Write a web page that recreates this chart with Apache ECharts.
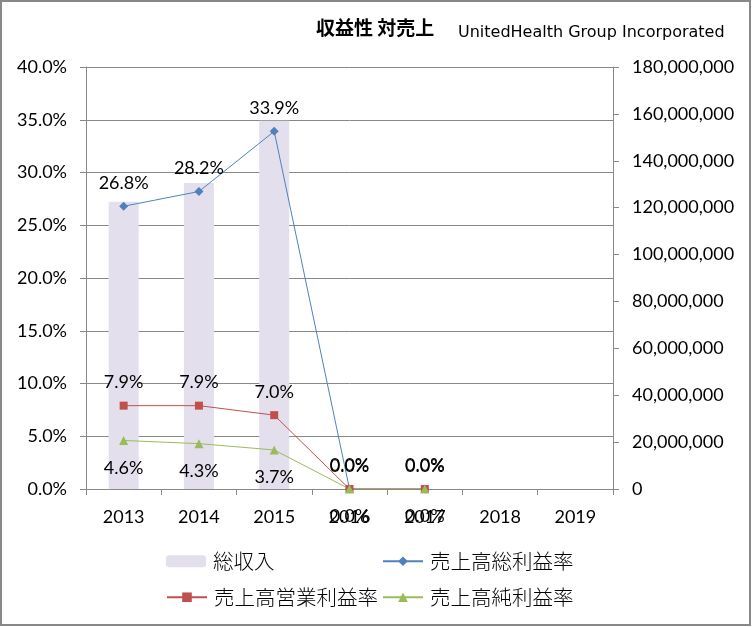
<!DOCTYPE html>
<html><head><meta charset="utf-8">
<script src="https://cdn.jsdelivr.net/npm/echarts@6/dist/echarts.min.js"></script>
<style>html,body{margin:0;padding:0;background:#fff}#c{width:752px;height:627px}</style>
</head><body><div id="c"></div>
<script>
const categories = ['2013','2014','2015','2016','2017','2018','2019'];
const revenue = [122489000, 130474000, 157107000, null, null, null, null];
const grossMargin = [26.8, 28.2, 33.9, 0, 0, null, null];
const operatingMargin = [7.9, 7.9, 7.0, 0, 0, null, null];
const netMargin = [4.6, 4.3, 3.7, 0, 0, null, null];
const seriesNames = ['総収入','売上高総利益率','売上高営業利益率','売上高純利益率'];

const FONT = 'Lato, "Noto Sans CJK JP", sans-serif';
const JFONT = '"Noto Sans CJK JP", sans-serif';
const pct = v => v.toFixed(1) + '%';
const lbl = (pos, dist) => ({show:true, position:pos, distance:dist, color:'#000', fontSize:18, fontFamily:FONT, formatter:p => pct(p.value)});
const legendCommon = {itemWidth:40, itemHeight:12, itemGap:0, padding:0, textStyle:{fontSize:20.5, fontFamily:JFONT, color:'#000', fontWeight:300, padding:[0,0,0,2]}};

const chart = echarts.init(document.getElementById('c'));
chart.setOption({
  animation:false,
  title:[
    {text:'収益性 対売上', left:316, top:18, padding:0, textStyle:{fontSize:19, fontWeight:'bold', fontFamily:JFONT, color:'#000'}},
    {text:'UnitedHealth Group Incorporated', left:458, top:25, padding:0, textStyle:{fontSize:16, fontWeight:'normal', fontFamily:'"DejaVu Sans", sans-serif', color:'#000'}}
  ],
  graphic:[{type:'rect', shape:{x:1, y:1, width:749, height:624}, style:{fill:'none', stroke:'#888', lineWidth:2}, silent:true, z:-1}],
  legend:[
    Object.assign({data:[seriesNames[0]], left:166, top:551}, legendCommon),
    Object.assign({data:[seriesNames[1]], left:382, top:551}, legendCommon),
    Object.assign({data:[seriesNames[2]], left:166, top:587}, legendCommon),
    Object.assign({data:[seriesNames[3]], left:382, top:587}, legendCommon)
  ],
  grid:{left:86, right:139, top:67, bottom:138},
  xAxis:{type:'category', data:categories, boundaryGap:true,
    axisLine:{lineStyle:{color:'#888'}}, axisTick:{show:true, length:6, lineStyle:{color:'#888'}},
    axisLabel:{color:'#000', fontSize:18, fontFamily:FONT, margin:19}},
  yAxis:[
    {type:'value', min:0, max:40, interval:5, position:'left',
     axisLine:{show:true, lineStyle:{color:'#888'}}, axisTick:{show:true, length:6, lineStyle:{color:'#888'}},
     splitLine:{lineStyle:{color:'#888'}},
     axisLabel:{color:'#000', fontSize:18, fontFamily:FONT, margin:19, formatter:pct}},
    {type:'value', min:0, max:180000000, interval:20000000, position:'right',
     axisLine:{show:true, lineStyle:{color:'#888'}}, axisTick:{show:true, length:6, lineStyle:{color:'#888'}},
     splitLine:{show:false},
     axisLabel:{color:'#000', fontSize:18, fontFamily:FONT, margin:19, formatter:v => v.toLocaleString('en-US')}}
  ],
  series:[
    {name:seriesNames[0], type:'bar', yAxisIndex:1, data:revenue, barWidth:30, itemStyle:{color:'#e4dfec'}},
    {name:seriesNames[1], type:'line', data:grossMargin, symbol:'diamond', symbolSize:9, color:'#4f81bd',
     lineStyle:{width:1, color:'#4f81bd'}, itemStyle:{color:'#4f81bd'}, label:lbl('top',10)},
    {name:seriesNames[2], type:'line', data:operatingMargin, symbol:'rect', symbolSize:8, color:'#c0504d',
     lineStyle:{width:1, color:'#c0504d'}, itemStyle:{color:'#c0504d'}, label:lbl('top',10)},
    {name:seriesNames[3], type:'line', data:netMargin, symbol:'triangle', symbolSize:9, color:'#9bbb59',
     lineStyle:{width:1, color:'#9bbb59'}, itemStyle:{color:'#9bbb59'}, label:lbl('bottom',14)}
  ]
});
</script></body></html>
